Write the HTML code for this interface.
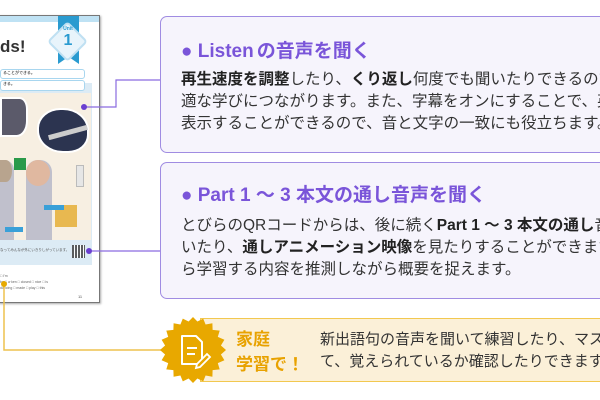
<!DOCTYPE html>
<html><head><meta charset="utf-8"><style>
*{margin:0;padding:0;box-sizing:border-box}
html,body{width:600px;height:400px;overflow:hidden;background:#fff}
#w{position:relative;width:600px;height:400px;overflow:hidden;font-family:"Liberation Sans","Noto Sans CJK JP",sans-serif}
.a{position:absolute}
.box{position:absolute;left:160px;width:450px;border:1.5px solid #a08ce2;border-radius:7px;background:#f6f4fc;overflow:hidden}
.t{position:absolute;left:20px;font-size:19px;font-weight:bold;color:#7a55d9;white-space:nowrap}
.b{position:absolute;left:20px;font-size:15.5px;line-height:22px;color:#333;white-space:nowrap}
.b b{color:#222}
</style></head><body><div id="w">
<div class="a" style="left:-2px;top:15px;width:102px;height:288px;background:#fff;border:1px solid #777;box-shadow:1px 1px 2px #aaa"></div>
<div class="a" style="left:0;top:16px;width:99px;height:6px;background:#bfe2f4"></div>
<div class="a" style="left:0;top:83px;width:92px;height:182px;background:#dcebf5"></div>
<div class="a" style="left:0;top:37px;font-size:17px;font-weight:bold;color:#333">ds!</div>
<div class="a" style="left:0;top:69px;width:85px;height:10px;border:1.5px solid #a8d6ef;border-radius:3px;background:#fff;font-size:4px;padding-left:2px">ることができる。</div>
<div class="a" style="left:0;top:80px;width:85px;height:11px;border:1.5px solid #a8d6ef;border-radius:3px;background:#fff;font-size:4px;padding-left:2px">きる。</div>
<div class="a" style="left:58px;top:16px;width:21px;height:48px;background:#2a9bd0;clip-path:polygon(0 0,100% 0,100% 100%,50% 85%,0 100%)"></div>
<div class="a" style="left:53px;top:27px;width:29px;height:29px;background:#e8f4fb;border:2px solid #bfe0f2;transform:rotate(45deg);border-radius:4px"></div>
<div class="a" style="left:58px;top:26px;width:20px;text-align:center;font-size:5px;font-weight:bold;color:#2a9bd0">Unit</div>
<div class="a" style="left:58px;top:32px;width:20px;text-align:center;font-size:16px;font-weight:bold;color:#2a9bd0">1</div>
<div class="a" style="left:0;top:93px;width:91px;height:147px;background:#f7efe2"></div>
<div class="a" style="left:0;top:97px;width:28px;height:40px;background:#5b5a6a;border-radius:0 30% 40% 0;border:2px solid #fff"></div>
<div class="a" style="left:37px;top:108px;width:52px;height:45px;background:#2c3450;border-radius:45% 50% 40% 50%;border:2px solid #fff"></div>
<div class="a" style="left:48px;top:130px;width:40px;height:5px;background:#ccc;transform:rotate(-15deg)"></div>
<div class="a" style="left:14px;top:158px;width:12px;height:12px;background:#2a9a4a"></div>
<div class="a" style="left:26px;top:160px;width:26px;height:80px;background:#c0c0cc;border-radius:12px 12px 0 0"></div>
<div class="a" style="left:26px;top:160px;width:24px;height:26px;background:#e0b8a0;border-radius:50%"></div>
<div class="a" style="left:0;top:160px;width:14px;height:80px;background:#c0c0cc;border-radius:0 10px 0 0"></div>
<div class="a" style="left:0;top:160px;width:12px;height:22px;background:#b8a48e;border-radius:0 50% 50% 0"></div>
<div class="a" style="left:55px;top:205px;width:22px;height:22px;background:#e8b850"></div>
<div class="a" style="left:76px;top:165px;width:8px;height:22px;background:#e6e6e6;border:1px solid #bbb"></div>
<div class="a" style="left:44px;top:205px;width:20px;height:5px;background:#3aa0d8"></div>
<div class="a" style="left:5px;top:227px;width:18px;height:5px;background:#3aa0d8"></div>
<div class="a" style="left:0;top:248px;font-size:3.5px;color:#555;white-space:nowrap">なってみんなが外にいきりしがっています。</div>
<div class="a" style="left:72px;top:245px;width:13px;height:13px;background:repeating-linear-gradient(90deg,#444 0 2px,#fff 2px 3px),#444;opacity:.85"></div>
<div class="a" style="left:0;top:273px;font-size:3.5px;color:#666;line-height:6px;white-space:nowrap">□ I'm<br>bo □ a·ken □ closed □ nice □ is<br>dancing □ made □ play □ this</div>
<div class="a" style="left:78px;top:294px;font-size:4px;color:#555">11</div>
<svg class="a" style="left:0;top:0" width="600" height="400">
<polyline points="84,107 116,107 116,80 160,80" fill="none" stroke="#8a6be0" stroke-width="1.2"/>
<line x1="88" y1="251" x2="160" y2="251" stroke="#8a6be0" stroke-width="1.2"/>
<circle cx="84" cy="107" r="3" fill="#6a3fd0"/>
<circle cx="89" cy="251" r="3" fill="#6a3fd0"/>
<polyline points="4,285 4,350 170,350" fill="none" stroke="#edc24e" stroke-width="1.5"/>
<circle cx="4" cy="284" r="3" fill="#e6a900"/>
</svg>
<div class="box" style="top:16px;height:137px">
<div class="t" style="top:19px">● Listen<span style="margin-left:3px">の音声を聞く</span></div>
<div class="b" style="top:52px"><b>再生速度を調整</b>したり、<b>くり返し</b>何度でも聞いたりできるので、最<br>適な学びにつながります。また、字幕をオンにすることで、英文を<br>表示することができるので、音と文字の一致にも役立ちます。</div>
</div>
<div class="box" style="top:162px;height:137px">
<div class="t" style="top:17px">● Part 1 ～ 3 本文の通し音声を聞く</div>
<div class="b" style="top:52px">とびらのQRコードからは、後に続く<b>Part 1 ～ 3 本文の通し</b>音声を聞<br>いたり、<b>通しアニメーション映像</b>を見たりすることができます。絵か<br>ら学習する内容を推測しながら概要を捉えます。</div>
</div>
<div class="a" style="left:200px;top:318px;width:410px;height:64px;background:#fbf0d8;border:1.5px solid #f2c850;overflow:hidden">
<div class="a" style="left:119px;top:10px;font-size:15px;line-height:22px;color:#333;white-space:nowrap">新出語句の音声を聞いて練習したり、マスク機能を使っ<br>て、覚えられているか確認したりできます。</div>
</div>
<svg class="a" style="left:158px;top:315px" width="70" height="70" viewBox="-35 -35 70 70">
<polygon fill="#e8a800" points="
0,-33 4.4,-28.5 10.2,-31.4 12.6,-25.5 19.4,-26.7 19.6,-20.1 26.7,-19.4 24.8,-13.1 31.4,-10.2 27.9,-4.5 33,0 27.9,4.5 31.4,10.2 24.8,13.1 26.7,19.4 19.6,20.1 19.4,26.7 12.6,25.5 10.2,31.4 4.4,28.5 0,33 -4.4,28.5 -10.2,31.4 -12.6,25.5 -19.4,26.7 -19.6,20.1 -26.7,19.4 -24.8,13.1 -31.4,10.2 -27.9,4.5 -33,0 -27.9,-4.5 -31.4,-10.2 -24.8,-13.1 -26.7,-19.4 -19.6,-20.1 -19.4,-26.7 -12.6,-25.5 -10.2,-31.4 -4.4,-28.5"/>
<path d="M-11,-14 h14 l6,6 v22 h-20 z" fill="none" stroke="#fff" stroke-width="2" stroke-linejoin="round"/>
<path d="M-6,-2 h10 M-6,4 h8" stroke="#fff" stroke-width="2"/>
<path d="M4,14 l10,-10 l3,3 l-10,10 l-4,1 z" fill="#e8a800" stroke="#fff" stroke-width="1.8"/>
</svg>
<div class="a" style="left:236px;top:327px;font-size:17px;font-weight:bold;color:#e8a200;line-height:25px">家庭<br>学習で！</div>
</div></body></html>
